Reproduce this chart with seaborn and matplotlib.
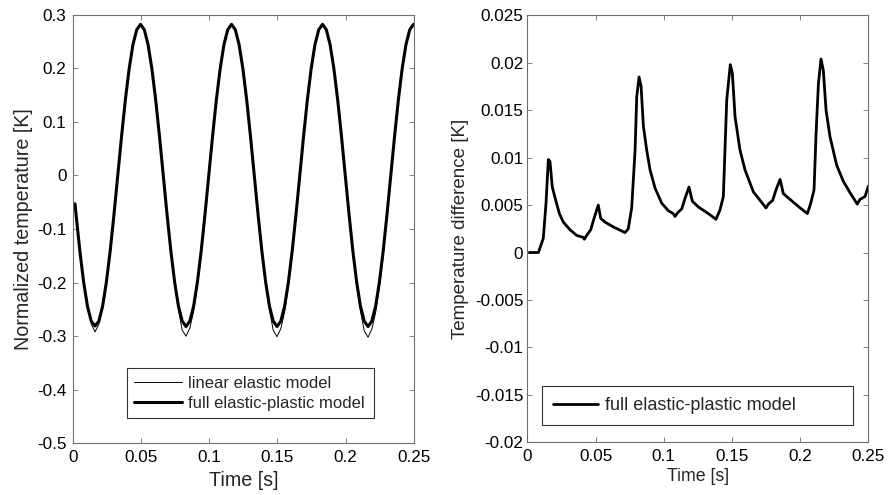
import numpy as np
import pandas as pd
import matplotlib
matplotlib.use("Agg")
import matplotlib.pyplot as plt
from matplotlib import ticker
import seaborn as sns

# ---------------- data ----------------
# left panel: normalized temperature, sampled every 1/360 s
time_left = np.r_[0.0017, np.arange(1, 91) / 360.0 - 0.0003, 0.25]
full_model = [
    -0.053,
    -0.073, -0.141, -0.199, -0.244, -0.272, -0.281, -0.272, -0.244, -0.199, -0.141, -0.073, 0.000,
    0.073, 0.141, 0.199, 0.244, 0.272, 0.282, 0.272, 0.244, 0.199, 0.141, 0.073, 0.000,
    -0.073, -0.141, -0.199, -0.244, -0.272, -0.282, -0.272, -0.244, -0.199, -0.141, -0.073, 0.000,
    0.073, 0.141, 0.199, 0.244, 0.272, 0.282, 0.272, 0.244, 0.199, 0.141, 0.073, 0.000,
    -0.073, -0.141, -0.199, -0.244, -0.272, -0.282, -0.272, -0.244, -0.199, -0.141, -0.073, 0.000,
    0.073, 0.141, 0.199, 0.244, 0.272, 0.282, 0.272, 0.244, 0.199, 0.141, 0.073, 0.000,
    -0.073, -0.141, -0.199, -0.244, -0.272, -0.282, -0.272, -0.244, -0.199, -0.141, -0.073, 0.000,
    0.073, 0.141, 0.199, 0.244, 0.272, 0.282,
    0.282,
]
linear_model = [
    -0.053,
    -0.073, -0.141, -0.199, -0.245, -0.277, -0.292, -0.278, -0.249, -0.203, -0.144, -0.076, -0.002,
    0.071, 0.139, 0.198, 0.243, 0.271, 0.282, 0.271, 0.243, 0.197, 0.139, 0.071, -0.002,
    -0.075, -0.143, -0.202, -0.251, -0.289, -0.300, -0.285, -0.254, -0.207, -0.148, -0.079, -0.005,
    0.069, 0.138, 0.197, 0.243, 0.271, 0.282, 0.271, 0.242, 0.196, 0.138, 0.070, -0.004,
    -0.077, -0.145, -0.204, -0.251, -0.289, -0.301, -0.286, -0.255, -0.209, -0.149, -0.080, -0.007,
    0.068, 0.137, 0.196, 0.242, 0.271, 0.282, 0.271, 0.242, 0.196, 0.137, 0.069, -0.005,
    -0.077, -0.145, -0.204, -0.253, -0.290, -0.302, -0.287, -0.256, -0.209, -0.150, -0.081, -0.007,
    0.068, 0.137, 0.196, 0.242, 0.271, 0.282,
    0.282,
]

# right panel: temperature difference
time_right = [0.0015, 0.0081, 0.0117, 0.0137, 0.0154, 0.0166, 0.0183, 0.0210, 0.0235, 0.0264,
              0.0313, 0.0362, 0.0410, 0.0418, 0.0435, 0.0465, 0.0489, 0.0520, 0.0538, 0.0570,
              0.0630, 0.0716, 0.0740, 0.0765, 0.0790, 0.0802, 0.0819, 0.0834, 0.0851, 0.0875,
              0.0900, 0.0936, 0.0985, 0.1034, 0.1070, 0.1083, 0.1102, 0.1132, 0.1156, 0.1185,
              0.1210, 0.1254, 0.1327, 0.1383, 0.1413, 0.1437, 0.1449, 0.1462, 0.1488, 0.1503,
              0.1523, 0.1559, 0.1596, 0.1657, 0.1706, 0.1750, 0.1767, 0.1799, 0.1823, 0.1853,
              0.1877, 0.1926, 0.2000, 0.2053, 0.2078, 0.2102, 0.2117, 0.2134, 0.2153, 0.2170,
              0.2190, 0.2219, 0.2268, 0.2317, 0.2366, 0.2419, 0.2439, 0.2476, 0.2500]
temp_diff = [0.0, 0.0, 0.0015, 0.0052, 0.0098, 0.0096, 0.0069, 0.0054, 0.0041, 0.0032,
             0.0024, 0.0018, 0.0016, 0.0014, 0.0018, 0.0024, 0.0036, 0.0050, 0.0036, 0.0032,
             0.0027, 0.0021, 0.0025, 0.0047, 0.0108, 0.0164, 0.0185, 0.0175, 0.0133, 0.0108,
             0.0087, 0.0068, 0.0052, 0.0044, 0.0041, 0.0038, 0.0042, 0.0046, 0.0057, 0.0069,
             0.0054, 0.0048, 0.0041, 0.0035, 0.0045, 0.0059, 0.0108, 0.0161, 0.0198, 0.0189,
             0.0143, 0.0108, 0.0087, 0.0064, 0.0055, 0.0047, 0.0051, 0.0055, 0.0066, 0.0077,
             0.0062, 0.0056, 0.0047, 0.0041, 0.0052, 0.0066, 0.0126, 0.0178, 0.0204, 0.0192,
             0.0150, 0.0122, 0.0092, 0.0075, 0.0063, 0.0051, 0.0056, 0.0059, 0.0070]

x_ticks = [0, 0.05, 0.1, 0.15, 0.2, 0.25]
left_yticks = [0.3, 0.2, 0.1, 0, -0.1, -0.2, -0.3, -0.4, -0.5]
right_yticks = [0.025, 0.02, 0.015, 0.01, 0.005, 0, -0.005, -0.01, -0.015, -0.02]

# ---------------- styling ----------------
sns.set_theme(style="white")
plt.rcParams["font.family"] = ["Liberation Sans", "DejaVu Sans"]
plt.rcParams["axes.unicode_minus"] = False

fig = plt.figure(figsize=(8.95, 4.95), dpi=100)
ax1 = fig.add_axes([0.0812, 0.1044, 0.3813, 0.8659])
ax2 = fig.add_axes([0.5892, 0.1065, 0.3810, 0.8626])

fmt = ticker.FuncFormatter(lambda v, _: f"{v:g}")
spine_col = "#6e6e6e"

def style_axes(ax, yticks, ylim, ypad):
    ax.set_xlim(0, 0.25)
    ax.set_ylim(*ylim)
    ax.set_xticks(x_ticks)
    ax.set_yticks(yticks)
    ax.xaxis.set_major_formatter(fmt)
    ax.yaxis.set_major_formatter(fmt)
    ax.tick_params(direction="in", length=3.5, width=0.6, color=spine_col,
                   top=True, right=True, bottom=True, left=True,
                   labelsize=12.3, labelcolor="black")
    ax.tick_params(axis="x", pad=5)
    ax.tick_params(axis="y", pad=ypad)
    for s in ax.spines.values():
        s.set_color(spine_col)
        s.set_linewidth(0.8)
        s.set_visible(True)
    ax.grid(False)

# left panel
df_left = pd.DataFrame({"t": time_left, "full": full_model, "linear": linear_model})
sns.lineplot(data=df_left, x="t", y="linear", ax=ax1, color="black", lw=0.7,
             label="linear elastic model", estimator=None, sort=False)
sns.lineplot(data=df_left, x="t", y="full", ax=ax1, color="black", lw=2.2,
             label="full elastic-plastic model", estimator=None, sort=False)
style_axes(ax1, left_yticks, (-0.5, 0.3), 4.5)
ax1.set_xlabel("Time [s]", fontsize=14.2, labelpad=4)
ax1.set_ylabel("Normalized temperature [K]", fontsize=14.2, labelpad=3)
leg1 = ax1.legend(loc="lower left", bbox_to_anchor=(0.158, 0.058, 0.7246, 0.118),
                  mode="expand", fontsize=12, frameon=True, fancybox=False,
                  edgecolor="#333333", framealpha=1, handlelength=2.9,
                  handletextpad=0.35, borderpad=0.45, labelspacing=0.3, borderaxespad=0)
leg1.get_frame().set_linewidth(0.8)

# right panel
df_right = pd.DataFrame({"t": time_right, "diff": temp_diff})
sns.lineplot(data=df_right, x="t", y="diff", ax=ax2, color="black", lw=2.0,
             label="full elastic-plastic model", estimator=None, sort=False)
style_axes(ax2, right_yticks, (-0.02, 0.025), 3)
ax2.set_xlabel("Time [s]", fontsize=12.8, labelpad=3)
ax2.set_ylabel("Temperature difference [K]", fontsize=13.5, labelpad=4)
leg2 = ax2.legend(loc="lower left", bbox_to_anchor=(0.044, 0.0405, 0.910, 0.0897),
                  mode="expand", fontsize=13, frameon=True, fancybox=False,
                  edgecolor="#333333", framealpha=1, handlelength=2.5,
                  handletextpad=0.35, borderpad=0.6, borderaxespad=0)
leg2.get_frame().set_linewidth(0.8)

fig.savefig("out.png", dpi=100)
